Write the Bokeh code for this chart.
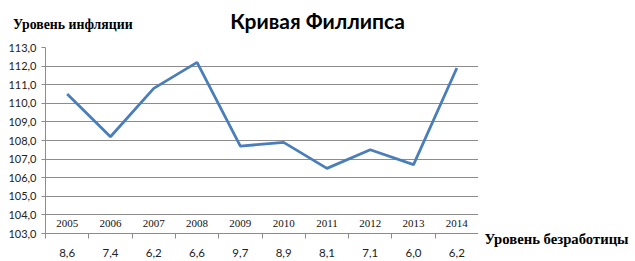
from bokeh.plotting import figure
from bokeh.layouts import column, row
from bokeh.models import FixedTicker, Range1d
from bokeh.core.properties import value
from bokeh.embed import file_html
from bokeh.resources import INLINE

years = ["2005", "2006", "2007", "2008", "2009", "2010", "2011", "2012", "2013", "2014"]
unemployment = ["8,6", "7,4", "6,2", "6,6", "9,7", "8,9", "8,1", "7,1", "6,0", "6,2"]
inflation = [110.5, 108.2, 110.8, 112.2, 107.7, 107.9, 106.5, 107.5, 106.7, 111.9]
y_ticks = [103, 104, 105, 106, 107, 108, 109, 110, 111, 112, 113]

title_text = "Кривая Филлипса"
y_title = "Уровень инфляции"
x_title = "Уровень безработицы"

xc = [i + 0.5 for i in range(len(years))]

HEAD_H = 39


def blank(w, h, xr, yr):
    f = figure(width=w, height=h, output_backend="svg", toolbar_location=None,
               x_range=Range1d(*xr), y_range=Range1d(*yr),
               x_axis_location=None, y_axis_location=None,
               min_border=0, min_border_left=0, min_border_right=0,
               min_border_top=0, min_border_bottom=0)
    f.grid.visible = False
    f.outline_line_color = None
    f.background_fill_color = "white"
    f.border_fill_color = "white"
    return f


# header strip (canvas pixels, y downward)
head = blank(635, HEAD_H, (0, 635), (HEAD_H, 0))
head.text(x=[317], y=[19.5], text=[title_text], text_font=value("Lato"), text_font_style="bold",
          text_font_size="21px", text_align="center", text_baseline="middle", text_color="#000000")
head.text(x=[12.5], y=[23.5], text=[y_title], text_font=value("Liberation Serif"), text_font_style="bold",
          text_font_size="13.8px", text_align="left", text_baseline="middle", text_color="#000000")

# main chart
p = figure(width=478, height=261 - HEAD_H, output_backend="svg", toolbar_location=None,
           x_range=Range1d(0, len(years)), y_range=Range1d(103, 113),
           min_border_left=45, min_border_right=0, min_border_top=47 - HEAD_H, min_border_bottom=28)
p.outline_line_color = None
p.background_fill_color = "white"
p.border_fill_color = "white"

p.yaxis.ticker = FixedTicker(ticks=y_ticks)
p.yaxis.major_label_overrides = {t: f"{t:.1f}".replace(".", ",") for t in y_ticks}
p.yaxis.axis_line_color = "#8c8c8c"
p.yaxis.major_tick_line_color = "#8c8c8c"
p.yaxis.major_tick_out = 4
p.yaxis.major_tick_in = 0
p.yaxis.minor_tick_line_color = None
p.yaxis.major_label_standoff = 5
p.yaxis.major_label_text_font = "Lato"
p.yaxis.major_label_text_font_size = "11px"
p.yaxis.major_label_text_color = "#222222"

p.xaxis.ticker = FixedTicker(ticks=xc, minor_ticks=list(range(len(years) + 1)))
p.xaxis.major_label_overrides = {x: u for x, u in zip(xc, unemployment)}
p.xaxis.axis_line_color = "#8c8c8c"
p.xaxis.major_tick_line_color = None
p.xaxis.major_tick_out = 0
p.xaxis.major_tick_in = 0
p.xaxis.minor_tick_line_color = "#8c8c8c"
p.xaxis.minor_tick_out = 5
p.xaxis.minor_tick_in = 0
p.xaxis.major_label_standoff = 10
p.xaxis.major_label_text_font = "Lato"
p.xaxis.major_label_text_font_size = "11.5px"
p.xaxis.major_label_text_color = "#222222"

p.xgrid.grid_line_color = None
p.ygrid.ticker = FixedTicker(ticks=y_ticks)
p.ygrid.grid_line_color = "#8c8c8c"
p.ygrid.grid_line_width = 1

p.line(xc, inflation, line_color="#4a7ebb", line_width=2.8)

p.text(x=xc, y=[103.55] * len(years), text=years, text_font=value("Liberation Serif"),
       text_font_size="11px", text_align="center", text_baseline="middle", text_color="#111111")

# right strip with the x-axis title (canvas pixels, y downward)
side = blank(157, 261 - HEAD_H, (478, 635), (261, HEAD_H))
side.text(x=[484], y=[238], text=[x_title], text_font=value("Liberation Serif"), text_font_style="bold",
          text_font_size="14.7px", text_align="left", text_baseline="middle", text_color="#000000")

layout = column(head, row(p, column(side, spacing=0), spacing=0), spacing=0)
open("out.html", "w").write(file_html(layout, INLINE))
